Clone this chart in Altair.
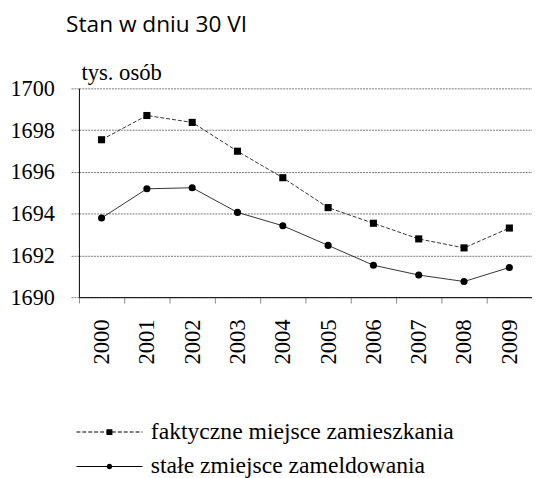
import altair as alt
import pandas as pd
import numpy as np

years = ["2000", "2001", "2002", "2003", "2004", "2005", "2006", "2007", "2008", "2009"]
faktyczne = [1697.54, 1698.70, 1698.37, 1696.99, 1695.72, 1694.29, 1693.54, 1692.79, 1692.36, 1693.31]
stale = [1693.79, 1695.19, 1695.24, 1694.06, 1693.42, 1692.48, 1691.53, 1691.06, 1690.75, 1691.42]
series_names = ["faktyczne miejsce zamieszkania", "stałe zmiejsce zameldowania"]
y_ticks = [1690, 1692, 1694, 1696, 1698, 1700]

rows = []
for name, vals in zip(series_names, [faktyczne, stale]):
    for yr, v in zip(years, vals):
        rows.append({"year": yr, "value": v, "series": name})
df = pd.DataFrame(rows)

SERIF = "Liberation Serif, Times New Roman, serif"

# --- legend glyphs (filled paths: line sample + marker), in symbol units ---
SYM = 289            # legend symbol size -> scale factor sqrt(SYM)/2 px per unit
S = np.sqrt(SYM) / 2
HALF = 33.5          # half-length of the legend line sample, px


def rect(x0, x1, hh=0.5):
    return f"M{x0/S:.4f},{-hh/S:.4f}H{x1/S:.4f}V{hh/S:.4f}H{x0/S:.4f}Z"


def circ(r):
    r = r / S
    return f"M{r:.4f},0A{r:.4f},{r:.4f},0,1,1,{-r:.4f},0A{r:.4f},{r:.4f},0,1,1,{r:.4f},0Z"


dashed = "".join(rect(x, min(x + 4, HALF)) for x in np.arange(-HALF, HALF, 6))
solid = rect(-HALF, HALF)
glyph_fakt = dashed + rect(-3, 3, 3)
glyph_stale = solid + circ(2.8)

x_enc = alt.X(
    "year:N",
    sort=years,
    scale=alt.Scale(type="band", paddingInner=0, paddingOuter=0),
    axis=alt.Axis(
        title=None, labelAngle=-90, labelAlign="right", labelBaseline="middle",
        labelFont=SERIF, labelFontSize=23, labelColor="black", labelPadding=16,
        tickBand="extent", tickColor="#888", tickSize=6, domainColor="black",
        grid=False,
    ),
)
y_enc = alt.Y(
    "value:Q",
    scale=alt.Scale(domain=[1690, 1700], nice=False, zero=False),
    axis=alt.Axis(
        values=y_ticks, format="d", title="tys. osób", titleAngle=0,
        titleX=2, titleY=-9, titleAlign="left", titleBaseline="alphabetic",
        titleFont=SERIF, titleFontSize=23, titleFontWeight="normal", titleColor="black",
        labelFont=SERIF, labelFontSize=22.5, labelColor="black", labelPadding=17,
        tickSize=8, tickColor="#777", tickDash=[2, 1],
        grid=True, gridColor="#777", gridDash=[2, 1],
        domainColor="black",
    ),
)

shape_scale = alt.Scale(domain=series_names, range=[glyph_fakt, glyph_stale])

base = alt.Chart(df)
fakt = base.transform_filter(alt.datum.series == series_names[0])
stal = base.transform_filter(alt.datum.series == series_names[1])

line_f = fakt.mark_line(color="#333", strokeWidth=1, strokeDash=[4, 2]).encode(x=x_enc, y=y_enc)
line_s = stal.mark_line(color="#333", strokeWidth=1).encode(x=x_enc, y=y_enc)

squares = fakt.mark_point(
    shape="square", filled=True, color="black", size=52, opacity=1
).encode(x=x_enc, y=y_enc)

circles = stal.mark_point(
    shape="circle", filled=True, color="black", size=52, opacity=1
).encode(x=x_enc, y=y_enc)

legend_layer = base.transform_filter("false").transform_calculate(lab="datum.series").mark_point(
    filled=True, color="black", opacity=1
).encode(
    x=x_enc, y=y_enc,
    shape=alt.Shape(
        "lab:N", scale=shape_scale,
        legend=alt.Legend(
            orient="none", legendX=19, legendY=337, title=None,
            labelFont=SERIF, labelFontSize=24, labelColor="black", labelLimit=400,
            labelOffset=30, symbolSize=SYM, symbolStrokeWidth=0,
            symbolFillColor="#222", rowPadding=11, padding=0,
        ),
    ),
)

chart = alt.layer(line_f, line_s, squares, circles, legend_layer).properties(
    width=460,
    height=212,
    title=alt.Title(
        "Stan w dniu 30 VI", anchor="start", frame="group", font="Open Sans", fontSize=23,
        fontWeight="normal", color="black", dx=-13, offset=25,
    ),
    autosize=alt.AutoSizeParams(type="none"),
    padding={"left": 72, "top": 78, "right": 0, "bottom": 180},
).configure_view(stroke=None)

chart.save("out.html", embed_options={"renderer": "svg", "actions": False})
